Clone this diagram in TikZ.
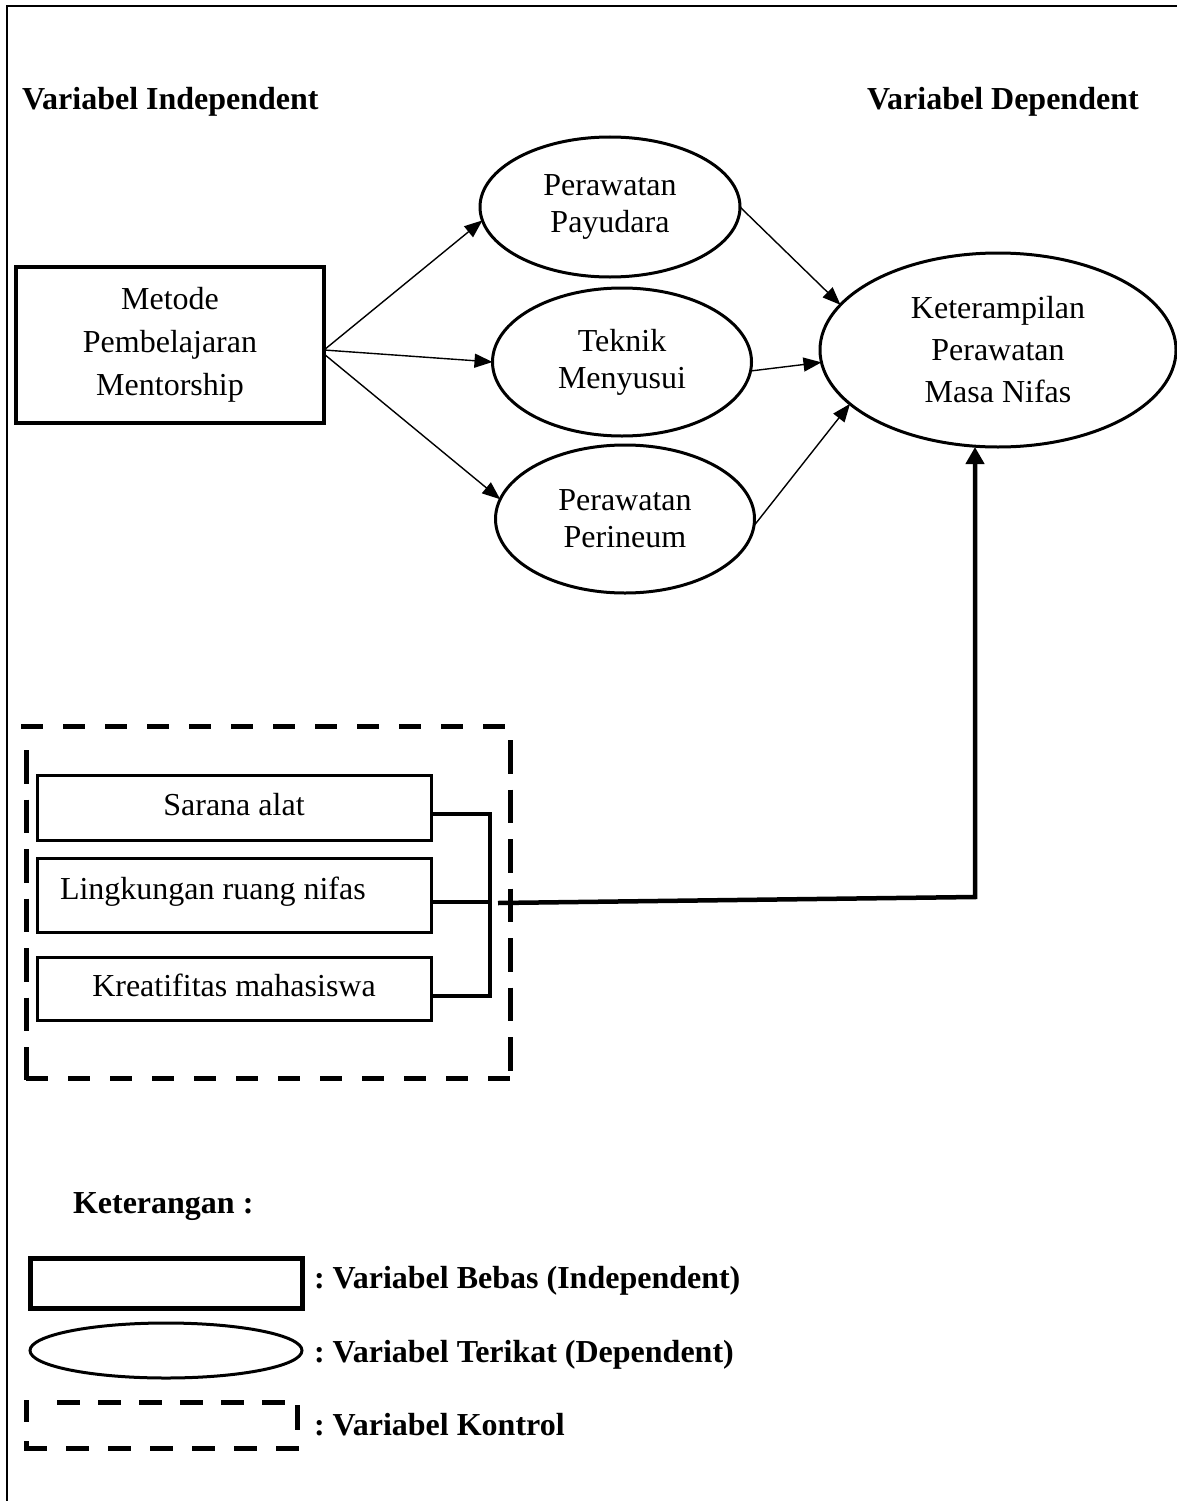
\documentclass[tikz,border=0pt]{standalone}
\usepackage{fontspec}
\setmainfont{Liberation Serif}
\frenchspacing
\usetikzlibrary{shapes.geometric,arrows.meta}
\begin{document}
\begin{tikzpicture}[x=1pt,y=-1pt,
  every node/.style={inner sep=0pt, outer sep=0pt},
  hdr/.style={font=\fontsize{32}{37}\selectfont\bfseries},
  oval/.style={ellipse, draw, line width=3pt, align=center, font=\fontsize{32}{37}\selectfont},
  cbox/.style={rectangle, draw, line width=3pt, minimum width=394pt, text height=22pt, text depth=7pt, align=center, font=\fontsize{32}{37}\selectfont},
  thinarr/.style={line width=1.4pt, -{Triangle[length=18pt,width=14pt]}},
  thickarr/.style={line width=4.5pt, line join=miter, -{Triangle[length=17pt,width=18pt]}},
  brk/.style={line width=4pt, line join=miter},
  dh/.style={line width=5pt, dash pattern=on 22pt off 20pt},
  dv/.style={line width=5pt, dash pattern=on 33.5pt off 16pt},
  ldh/.style={line width=5pt, dash pattern=on 23pt off 18pt},
  ldv/.style={line width=5pt, dash pattern=on 22pt off 19pt}]
\useasboundingbox (0,0) rectangle (1177,1501);
% frame
\draw[line width=2.5pt] (7,1501) -- (7,6) -- (1177,6);
% headers
\node[hdr, anchor=base west] (hI) at (22,110) {Variabel Independent};
\node[hdr, anchor=base west] (hD) at (867,110) {Variabel Dependent};
% independent box
\node[draw, line width=3.5pt, minimum width=308pt, minimum height=156pt, align=center,
      font=\fontsize{32}{43}\selectfont] (M) at (170,345) {Metode\\Pembelajaran\\Mentorship};
% ellipses
\node[oval, minimum width=260pt, minimum height=140pt] (P1) at (610,207) {Perawatan\\Payudara};
\node[oval, minimum width=259pt, minimum height=148pt] (T) at (622,362) {Teknik\\Menyusui};
\node[oval, minimum width=259pt, minimum height=148pt] (Pe) at (625,519) {Perawatan\\Perineum};
\node[oval, minimum width=356pt, minimum height=194pt, font=\fontsize{32}{42}\selectfont] (K) at (998,350) {Keterampilan\\Perawatan\\Masa Nifas};
% arrows
\draw[thinarr] ([yshift=-5pt]M.east) -- (P1.186);
\draw[thinarr] ([yshift=-5pt]M.east) -- (T.west);
\draw[thinarr] ([yshift=-9pt]M.east) -- (Pe.171.5);
\draw[thinarr] (P1.east) -- (K.164);
\draw[thinarr] (T.-4) -- (K.184);
\draw[thinarr] (Pe.-3) -- (K.200);
% control variables
\node[cbox, minimum height=65pt] (S) at (234,807.5) {Sarana alat};
\node[cbox, minimum height=74pt, inner xsep=23pt, text depth=14pt] (L) at (234,895) {\makebox[348pt][l]{Lingkungan ruang nifas}};
\node[cbox, minimum height=63pt] (Kr) at (234,988.5) {Kreatifitas mahasiswa};
\coordinate (bx) at (490,902);
\coordinate (s1) at ([yshift=-6.5pt]S.east);
\coordinate (l1) at ([yshift=-7pt]L.east);
\coordinate (k1) at ([yshift=-7.5pt]Kr.east);
\draw[brk] (s1) -| (bx) |- (k1);
\draw[brk] (l1) -- (l1 -| bx);
\coordinate (o0) at (498,903);
\coordinate (oc) at (975,897);
\draw[thickarr] (o0) -- (oc) -- (oc |- K.south);
% dashed control box
\draw[dh] (21,726) -- (511,726);
\draw[dh] (26,1078) -- (513,1078);
\draw[dv] (26.5,750) -- (26.5,1080);
\draw[dv] (510.5,740) -- (510.5,1078);
% legend
\node[hdr, anchor=base west] (ket) at (73,1213) {Keterangan :};
\node[draw, line width=5pt, minimum width=272pt, minimum height=50pt] (lr) at (166,1283) {};
\node[ellipse, draw, line width=3pt, minimum width=272pt, minimum height=55pt] (le) at (166,1350.5) {};
\draw[ldh] (57,1402) -- (300,1402);
\draw[ldh, dash pattern=on 23pt off 19pt] (24,1448) -- (302,1448);
\draw[ldv] (26,1400) -- (26,1450);
\draw[line width=5pt] (297,1405) -- (297,1430);
\node[hdr, anchor=base west] (t1) at (314,1288) {: Variabel Bebas (Independent)};
\node[hdr, anchor=base west] (t2) at (314,1362) {: Variabel Terikat (Dependent)};
\node[hdr, anchor=base west] (t3) at (314,1435) {: Variabel Kontrol};
\end{tikzpicture}
\end{document}
